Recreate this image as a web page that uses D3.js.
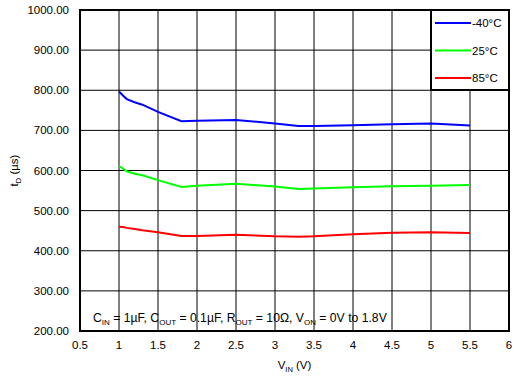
<!DOCTYPE html>
<html>
<head>
<meta charset="utf-8">
<script src="https://cdn.jsdelivr.net/npm/d3@7"></script>
<style>
  body { margin: 0; background: #fff; }
  text { font-family: "Liberation Sans", Arial, sans-serif; fill: #000; }
</style>
</head>
<body>
<div id="chart"></div>
<script>
const width = 526, height = 389;
const margin = {top: 10, right: 17, bottom: 58, left: 80};

// data
const vin = [1.0, 1.05, 1.1, 1.2, 1.3, 1.5, 1.8, 2.0, 2.5, 3.0, 3.3, 3.5, 4.0, 4.5, 5.0, 5.5];
const tM40 = [797, 787, 778, 770, 764, 746, 723, 724, 726, 717, 711, 711, 713, 715, 717, 712];
const t25  = [611, 605, 598, 592, 588, 576, 559, 562, 567, 560, 554, 555, 558, 561, 562, 564];
const t85  = [460, 459, 457, 454, 451, 446, 437, 437, 440, 436, 435, 436, 441, 445, 446, 444];
const seriesNames = ["-40°C", "25°C", "85°C"];
const seriesColors = ["#0000ff", "#00ff00", "#ff0000"];
const seriesValues = [tM40, t25, t85];
const xTicks = [0.5, 1, 1.5, 2, 2.5, 3, 3.5, 4, 4.5, 5, 5.5, 6];
const yTicks = [200, 300, 400, 500, 600, 700, 800, 900, 1000];

const w = width - margin.left - margin.right;
const h = height - margin.top - margin.bottom;

const svg = d3.select("#chart").append("svg")
    .attr("width", width)
    .attr("height", height);
const g = svg.append("g")
    .attr("transform", `translate(${margin.left},${margin.top})`);

const x = d3.scaleLinear().domain([0.5, 6]).range([0, w]);
const y = d3.scaleLinear().domain([200, 1000]).range([h, 0]);

// grid
g.append("g").selectAll("line").data(xTicks.slice(1, -1)).enter().append("line")
    .attr("x1", d => x(d)).attr("x2", d => x(d))
    .attr("y1", 0).attr("y2", h)
    .attr("stroke", "#000").attr("stroke-width", 1);
g.append("g").selectAll("line").data(yTicks.slice(1, -1)).enter().append("line")
    .attr("y1", d => y(d)).attr("y2", d => y(d))
    .attr("x1", 0).attr("x2", w)
    .attr("stroke", "#000").attr("stroke-width", 1);

// tick labels
g.append("g").selectAll("text").data(yTicks).enter().append("text")
    .attr("x", -11).attr("y", d => y(d)).attr("dy", "0.35em")
    .attr("text-anchor", "end").attr("font-size", 11.5)
    .text(d => d3.format(".2f")(d));
g.append("g").selectAll("text").data(xTicks).enter().append("text")
    .attr("x", d => x(d)).attr("y", h + 18)
    .attr("text-anchor", "middle").attr("font-size", 11.5)
    .text(d => d);

// lines
const line = d3.line()
    .x((d, i) => x(vin[i]))
    .y(d => y(d));
seriesValues.forEach((vals, k) => {
  g.append("path")
      .datum(vals)
      .attr("fill", "none")
      .attr("stroke", seriesColors[k])
      .attr("stroke-width", 2)
      .attr("d", line);
});

// legend
const lg = g.append("g").attr("transform", `translate(${w - 78},0)`);
lg.append("rect").attr("width", 78).attr("height", 80)
    .attr("fill", "#fff").attr("stroke", "#000").attr("stroke-width", 2);
seriesNames.forEach((name, k) => {
  const yy = 13 + k * 27.5;
  lg.append("line").attr("x1", 4).attr("x2", 40).attr("y1", yy).attr("y2", yy)
      .attr("stroke", seriesColors[k]).attr("stroke-width", 2);
  lg.append("text").attr("x", 41).attr("y", yy).attr("dy", "0.35em")
      .attr("font-size", 11.5).text(name);
});

// frame
g.append("rect").attr("width", w).attr("height", h)
    .attr("fill", "none").attr("stroke", "#000").attr("stroke-width", 2);

// annotation
const ann = g.append("text").attr("x", 13).attr("y", h - 9).attr("font-size", 12.2);
const parts = [["C", ""], ["IN", "s"], [" = 1µF, C", ""], ["OUT", "s"], [" = 0.1µF, R", ""], ["OUT", "s"],
               [" = 10Ω, V", ""], ["ON", "s"], [" = 0V to 1.8V", ""]];
parts.forEach(p => {
  const t = ann.append("tspan").text(p[0]);
  if (p[1] === "s") t.attr("font-size", 8).attr("dy", 3);
  else t.attr("dy", ann.selectAll("tspan").size() > 1 ? -3 : 0);
});

// axis titles
const xl = svg.append("text").attr("x", margin.left + x(3.25)).attr("y", 369)
    .attr("text-anchor", "middle").attr("font-size", 11.5);
xl.append("tspan").text("V");
xl.append("tspan").attr("font-size", 7.5).attr("dy", 3).text("IN");
xl.append("tspan").attr("dy", -3).text(" (V)");

const yl = svg.append("text")
    .attr("transform", `translate(18,${margin.top + h / 2}) rotate(-90)`)
    .attr("text-anchor", "middle").attr("font-size", 11.5);
yl.append("tspan").text("t");
yl.append("tspan").attr("font-size", 7.5).attr("dy", 3).text("D");
yl.append("tspan").attr("dy", -3).text(" (µs)");
</script>
</body>
</html>
